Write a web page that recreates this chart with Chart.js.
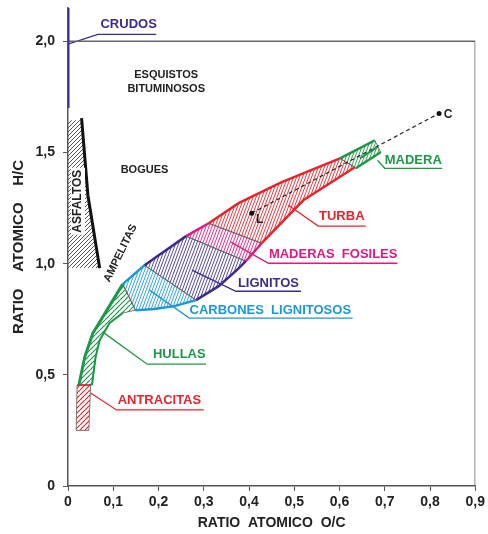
<!DOCTYPE html>
<html lang="es">
<head>
<meta charset="UTF-8">
<title>Diagrama de van Krevelen</title>
<script src="https://cdn.jsdelivr.net/npm/chart.js@4"></script>
<style>
  html, body { margin: 0; padding: 0; background: #fff; }
  #wrap { width: 488px; height: 534px; }
</style>
</head>
<body>
<div id="wrap"><canvas id="Chart"></canvas></div>
<script>
// axes
const xTicks = [0, 0.1, 0.2, 0.3, 0.4, 0.5, 0.6, 0.7, 0.8, 0.9];
const xTickLabels = ['0', '0,1', '0,2', '0,3', '0,4', '0,5', '0,6', '0,7', '0,8', '0,9'];
const yTicks = [0, 0.5, 1, 1.5, 2];
const yTickLabels = ['0', '0,5', '1,0', '1,5', '2,0'];

// zones, [O/C, H/C]: upper edge then lower edge, left to right
const hullasTop = [[0.024, 0.454], [0.037, 0.580], [0.055, 0.688], [0.086, 0.791], [0.121, 0.908]];
const hullasBottom = [[0.053, 0.454], [0.061, 0.580], [0.070, 0.656], [0.092, 0.733], [0.121, 0.778], [0.149, 0.791]];
const carbonesTop = [[0.121, 0.908], [0.169, 0.993]];
const carbonesBottom = [[0.149, 0.791], [0.191, 0.796], [0.235, 0.809], [0.283, 0.836]];
const lignitosTop = [[0.169, 0.993], [0.261, 1.124]];
const lignitosBottom = [[0.283, 0.836], [0.333, 0.899], [0.373, 0.971], [0.393, 1.011]];
const fosilesTop = [[0.261, 1.124], [0.311, 1.182]];
const fosilesBottom = [[0.393, 1.011], [0.428, 1.092]];
const turbaTop = [[0.311, 1.182], [0.377, 1.272], [0.471, 1.366], [0.601, 1.474]];
const turbaBottom = [[0.428, 1.092], [0.520, 1.285], [0.634, 1.434]];
const maderaTop = [[0.601, 1.474], [0.678, 1.555]];
const maderaBottom = [[0.636, 1.429], [0.691, 1.501]];
const maderaFork = [[0.645, 1.474], [0.684, 1.524]];
const antracitasTop = [[0.020, 0.454], [0.050, 0.454]];
const antracitasBottom = [[0.018, 0.250], [0.046, 0.250]];
const asfaltosTop = [[0, 1.645], [0.031, 1.645], [0.044, 1.308], [0.070, 0.980]];
const asfaltosBottom = [[0, 0.980]];
const asfaltosEdge = [[0.030, 1.655], [0.044, 1.308], [0.070, 0.980]];
const crudos = [[0, 1.70], [0, 2.15]];
const puntoL = [0.406, 1.227];
const puntoC = [0.820, 1.676];

// label leaders
const leaderCrudos = [[0, 1.987], [0.066, 2.031], [0.195, 2.031]];
const leaderAntracitas = [[0.050, 0.418], [0.107, 0.342], [0.300, 0.342]];
const leaderHullas = [[0.077, 0.692], [0.175, 0.548], [0.305, 0.548]];
const leaderCarbones = [[0.180, 0.881], [0.268, 0.755], [0.629, 0.755]];
const leaderLignitos = [[0.274, 0.971], [0.371, 0.876], [0.515, 0.876]];
const leaderFosiles = [[0.360, 1.097], [0.443, 1.002], [0.728, 1.002]];
const leaderTurba = [[0.487, 1.263], [0.553, 1.169], [0.658, 1.169]];
const leaderMadera = [[0.684, 1.465], [0.700, 1.429], [0.827, 1.429]];

const RED = '#e4252b', PINK = '#e0197d', NAVY = '#3a2d8a', BLUE = '#1c98d6', GREEN = '#1e9747', INK = '#222';

function stripes(color, w, h, lw) {
    const c = document.createElement('canvas');
    c.width = w; c.height = h;
    const g = c.getContext('2d');
    g.strokeStyle = color; g.lineWidth = lw;
    g.beginPath();
    for (let k = -1; k <= 1; k++) { g.moveTo(k * w, h); g.lineTo(k * w + w, 0); }
    g.stroke();
    return g.createPattern(c, 'repeat');
}

const pts = arr => arr.map(p => ({ x: p[0], y: p[1] }));

function zone(top, bottom, pattern) {
    return {
        data: pts(top.concat(bottom.slice().reverse(), [top[0]])),
        showLine: true, fill: 'shape', backgroundColor: pattern,
        borderColor: 'rgba(90,90,90,0.8)', borderWidth: 1, pointRadius: 0, tension: 0, order: 5
    };
}

function line(arr, color, width, dash) {
    return {
        data: pts(arr), showLine: true, fill: false, borderColor: color, borderWidth: width,
        borderDash: dash || [], pointRadius: 0, tension: 0, order: 2
    };
}

const asfaltos = zone(asfaltosTop, asfaltosBottom, stripes('#555', 4, 4, 1));
asfaltos.borderWidth = 0;

const datasets = [
    asfaltos,
    zone(antracitasTop, antracitasBottom, stripes(RED, 5, 5, 1.2)),
    zone(hullasTop, hullasBottom, stripes(GREEN, 5, 5, 1.2)),
    zone(carbonesTop, carbonesBottom, stripes(BLUE, 3, 8, 0.9)),
    zone(lignitosTop, lignitosBottom, stripes(NAVY, 3, 8, 0.85)),
    zone(fosilesTop, fosilesBottom, stripes(PINK, 3, 8, 0.9)),
    zone(turbaTop, turbaBottom, stripes(RED, 3, 8, 0.9)),
    zone(maderaTop, maderaBottom, stripes(GREEN, 3, 8, 0.9)),

    line(asfaltosEdge, '#111', 3),
    line(antracitasTop, RED, 1.5),
    line(hullasTop, GREEN, 3), line(hullasBottom.slice(0, 5), GREEN, 2),
    line(carbonesTop, BLUE, 2.5), line(carbonesBottom, BLUE, 2.5),
    line(lignitosTop, NAVY, 2.5), line(lignitosBottom, NAVY, 2.5),
    line(fosilesTop, PINK, 2.5), line(fosilesBottom, PINK, 2.5),
    line(turbaTop, RED, 2.5), line(turbaBottom, RED, 2.5),
    line(maderaTop, GREEN, 2.5), line(maderaBottom, GREEN, 2.5), line(maderaFork, GREEN, 2),
    line(crudos, NAVY, 3),
    line([[0, 2.0], [0.9, 2.0], [0.9, 0]], '#666', 1.5),
    line([puntoL, puntoC], '#222', 1.2, [4, 3]),
    { data: pts([puntoL, puntoC]), showLine: false, pointRadius: 2.5, pointBackgroundColor: '#111', pointBorderWidth: 0, order: 1 },

    line(leaderCrudos, NAVY, 1.3), line(leaderAntracitas, RED, 1.3), line(leaderHullas, GREEN, 1.3),
    line(leaderCarbones, BLUE, 1.3), line(leaderLignitos, NAVY, 1.3), line(leaderFosiles, PINK, 1.3),
    line(leaderTurba, RED, 1.3), line(leaderMadera, GREEN, 1.3)
];

const labels = [
    { t: 'CRUDOS', x: 0.134, y: 2.076, c: NAVY, s: 13 },
    { t: 'ESQUISTOS', x: 0.217, y: 1.847, c: INK, s: 11 },
    { t: 'BITUMINOSOS', x: 0.217, y: 1.784, c: INK, s: 11 },
    { t: 'BOGUES', x: 0.169, y: 1.420, c: INK, s: 11 },
    { t: 'ASFALTOS', x: 0.022, y: 1.281, c: INK, s: 12, r: -90, bg: true },
    { t: 'AMPELITAS', x: 0.116, y: 1.047, c: INK, s: 11, r: -64 },
    { t: 'MADERA', x: 0.763, y: 1.465, c: GREEN, s: 13 },
    { t: 'TURBA', x: 0.605, y: 1.213, c: RED, s: 13 },
    { t: 'MADERAS  FOSILES', x: 0.586, y: 1.040, c: PINK, s: 13 },
    { t: 'LIGNITOS', x: 0.443, y: 0.912, c: NAVY, s: 13 },
    { t: 'CARBONES  LIGNITOSOS', x: 0.447, y: 0.790, c: BLUE, s: 13 },
    { t: 'HULLAS', x: 0.246, y: 0.592, c: GREEN, s: 13 },
    { t: 'ANTRACITAS', x: 0.202, y: 0.384, c: RED, s: 13 },
    { t: 'L', x: 0.406, y: 1.227, c: INK, s: 12, dx: 8, dy: 6 },
    { t: 'C', x: 0.820, y: 1.676, c: INK, s: 12, dx: 9, dy: 1 }
];

const labelPlugin = {
    id: 'labels',
    afterDatasetsDraw(chart) {
        const { ctx, scales } = chart;
        ctx.save();
        labels.forEach(l => {
            const px = scales.x.getPixelForValue(l.x) + (l.dx || 0);
            const py = scales.y.getPixelForValue(l.y) + (l.dy || 0);
            ctx.save();
            ctx.translate(px, py);
            if (l.r) ctx.rotate(l.r * Math.PI / 180);
            ctx.font = 'bold ' + l.s + 'px "Liberation Sans", Arial, sans-serif';
            ctx.textAlign = 'center';
            ctx.textBaseline = 'middle';
            if (l.bg) {
                const w = ctx.measureText(l.t).width;
                ctx.fillStyle = '#fff';
                ctx.fillRect(-w / 2 - 2, -l.s / 2 - 1, w + 4, l.s + 2);
            }
            ctx.fillStyle = l.c;
            ctx.fillText(l.t, 0, 0);
            ctx.restore();
        });
        ctx.restore();
    }
};

const tickFont = { family: '"Liberation Sans", Arial, sans-serif', size: 14, weight: 'bold' };

new Chart(document.getElementById('Chart'), {
    type: 'scatter',
    data: { datasets: datasets },
    options: {
        responsive: true,
        maintainAspectRatio: false,
        animation: false,
        layout: { padding: { top: 8, right: 10, left: 0, bottom: 0 } },
        plugins: { legend: { display: false }, tooltip: { enabled: false } },
        scales: {
            x: {
                type: 'linear', min: 0, max: 0.9,
                afterBuildTicks: s => { s.ticks = xTicks.map(v => ({ value: v })); },
                afterFit: s => { s.height = 48; },
                ticks: { callback: (v, i) => xTickLabels[i], font: tickFont, color: INK, padding: 3, maxRotation: 0, autoSkip: false },
                grid: { drawOnChartArea: false, drawTicks: true, tickLength: 5, color: '#555' },
                border: { color: '#555', width: 1.5 },
                title: { display: true, text: 'RATIO  ATOMICO  O/C', font: tickFont, color: INK, padding: { top: 0, bottom: 2 } }
            },
            y: {
                type: 'linear', min: 0, max: 2.15,
                afterBuildTicks: s => { s.ticks = yTicks.map(v => ({ value: v })); },
                afterFit: s => { s.width = 68; s.paddingTop = 0; },
                ticks: { callback: (v, i) => yTickLabels[i], font: tickFont, color: INK, padding: 8, autoSkip: false },
                grid: { drawOnChartArea: false, drawTicks: true, tickLength: 5, color: '#555' },
                border: { color: '#555', width: 1.5 },
                title: { display: true, text: 'RATIO    ATOMICO    H/C', font: { family: tickFont.family, size: 15, weight: 'bold' }, color: INK, padding: { top: 10, bottom: 0 } }
            }
        }
    },
    plugins: [labelPlugin]
});
</script>
</body>
</html>
